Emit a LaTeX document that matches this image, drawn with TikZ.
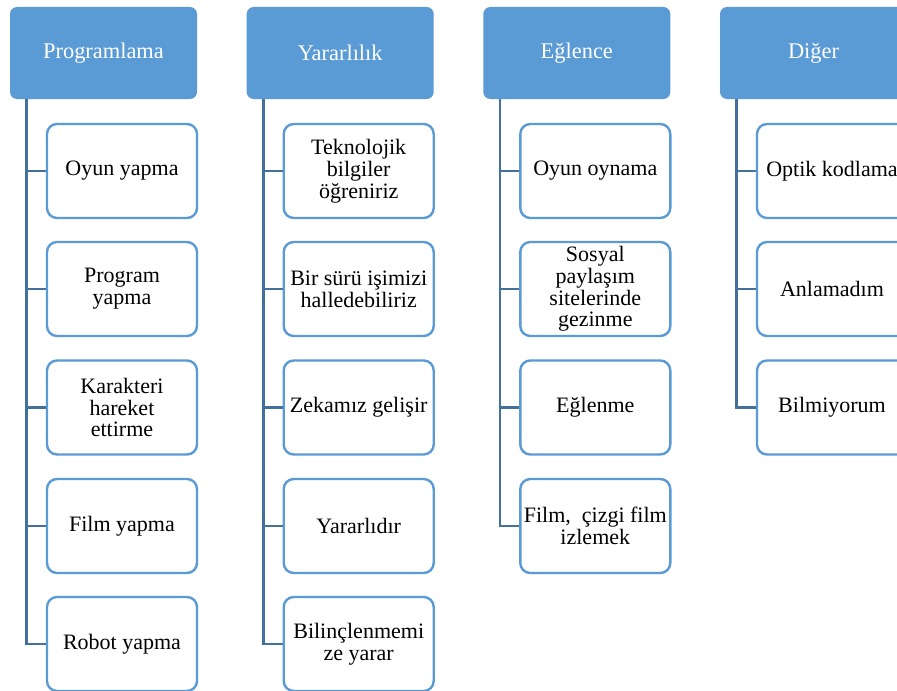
\documentclass[tikz,border=0pt]{standalone}
\usepackage{fontspec}
\setmainfont{Liberation Serif}
\definecolor{hdrblue}{HTML}{5B9BD5}
\definecolor{linkblue}{HTML}{41719C}
\tikzset{
    header/.style={rectangle, rounded corners=3.5pt, fill=hdrblue, text=white, minimum width=93.5pt, minimum height=46pt, inner sep=0pt, font=\fontsize{11.2}{11}\selectfont},
    item/.style={rectangle, rounded corners=5pt, draw=hdrblue, line width=1.2pt, fill=white, minimum width=75pt, minimum height=47pt, inner sep=1pt, align=center, font=\fontsize{11}{10.9}\selectfont},
    link/.style={draw=linkblue, line width=1.4pt}
}
\begin{document}
\begin{tikzpicture}[x=0.5pt,y=-0.5pt]
    \clip (0,0) rectangle (897,690);
    \fill[white] (0,0) rectangle (897,690);

    \node[header] (prog) at (103.5,53) {Programlama};
    \node[header] (yarar) at (340.2,53) {Yararlılık};
    \node[header] (eglence) at (576.8,53) {Eğlence};
    \node[header] (diger) at (813.5,53) {Diğer};

    \node[item] (prog1) at (122,171) {Oyun yapma};
    \node[item] (prog2) at (122,289) {Program\\yapma};
    \node[item] (prog3) at (122,407.5) {Karakteri\\hareket\\ettirme};
    \node[item] (prog4) at (122,526) {Film yapma};
    \node[item] (prog5) at (122,644) {Robot yapma};

    \node[item] (yarar1) at (358.7,171) {Teknolojik\\bilgiler\\öğreniriz};
    \node[item] (yarar2) at (358.7,289) {Bir sürü işimizi\\halledebiliriz};
    \node[item] (yarar3) at (358.7,407.5) {Zekamız gelişir};
    \node[item] (yarar4) at (358.7,526) {Yararlıdır};
    \node[item] (yarar5) at (358.7,644) {Bilinçlenmemi\\ze yarar};

    \node[item] (eglence1) at (595.3,171) {Oyun oynama};
    \node[item] (eglence2) at (595.3,289) {Sosyal\\paylaşım\\sitelerinde\\gezinme};
    \node[item] (eglence3) at (595.3,407.5) {Eğlenme};
    \node[item] (eglence4) at (595.3,526) {Film,\ \ çizgi film\\izlemek};

    \node[item] (diger1) at (832,171) {Optik kodlama};
    \node[item] (diger2) at (832,289) {Anlamadım};
    \node[item] (diger3) at (832,407.5) {Bilmiyorum};

    \coordinate (progt) at ([xshift=8.5pt]prog.south west);
    \coordinate (yarart) at ([xshift=8.5pt]yarar.south west);
    \coordinate (eglencet) at ([xshift=8.5pt]eglence.south west);
    \coordinate (digert) at ([xshift=8.5pt]diger.south west);

    \draw[link] (progt) |- (prog5.west);
    \foreach \i in {1,...,4}{
    \draw[link] (prog\i.west) -- (prog\i.west -| progt);
    }
    \draw[link] (yarart) |- (yarar5.west);
    \foreach \i in {1,...,4}{
    \draw[link] (yarar\i.west) -- (yarar\i.west -| yarart);
    }
    \draw[link] (eglencet) |- (eglence4.west);
    \foreach \i in {1,...,3}{
    \draw[link] (eglence\i.west) -- (eglence\i.west -| eglencet);
    }
    \draw[link] (digert) |- (diger3.west);
    \foreach \i in {1,2}{
    \draw[link] (diger\i.west) -- (diger\i.west -| digert);
    }
\end{tikzpicture}
\end{document}
